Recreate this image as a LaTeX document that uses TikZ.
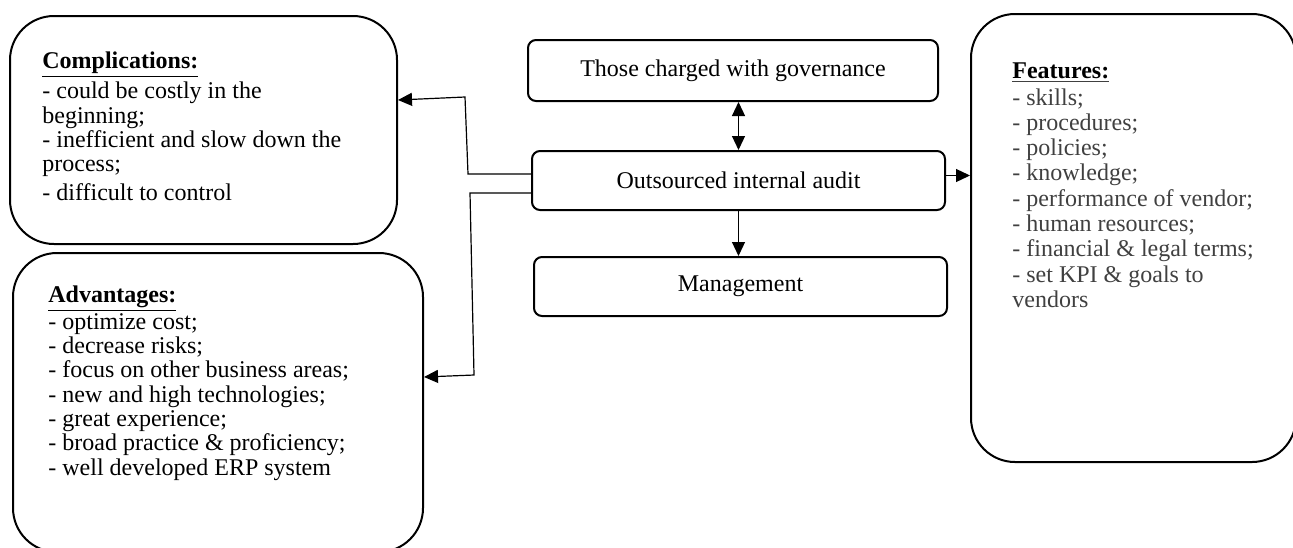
\documentclass[tikz,border=0pt]{standalone}
\usepackage{fontspec}
\setmainfont{Liberation Serif}
\usetikzlibrary{arrows.meta,calc,positioning}

\tikzset{
  box/.style={draw, line width=1pt, rounded corners=4pt, inner sep=0pt, font=\fontsize{12}{14}\selectfont},
  bigbox/.style={draw, line width=1pt, rounded corners=22pt, inner sep=0pt},
  txt/.style={anchor=north west, inner sep=0pt, align=left, font=\fontsize{12}{12.15}\selectfont},
  arr/.style={line width=0.6pt, -{Triangle[length=7pt,width=6.5pt]}},
  dblarr/.style={line width=0.6pt, {Triangle[length=7pt,width=6.5pt]}-{Triangle[length=7pt,width=6.5pt]}},
}

\begin{document}
\begin{tikzpicture}[x=0.5pt,y=-0.5pt]
\useasboundingbox (0,0) rectangle (1293,547);
\clip (0,0) rectangle (1293,547);

% centre column
\node[box, minimum width=205pt, minimum height=30.5pt] (gov) at (733,70.5) {Those charged with governance};
\node[box, minimum width=206.5pt, minimum height=29.5pt] (outs) at (738.5,180.5) {Outsourced internal audit};
\node[box, minimum width=206.5pt, minimum height=29.5pt] (mgmt) at (740.5,286.5) {Management};

% side boxes
\node[bigbox, minimum width=193.5pt, minimum height=114pt] (comp) at (203.5,130) {};
\node[bigbox, minimum width=205pt, minimum height=149.5pt] (adv) at (218,402.5) {};
\node[bigbox, minimum width=162.5pt, minimum height=224pt] (feat) at (1133.5,238) {};

\node[txt, font=\fontsize{12}{12.1}\selectfont] (comptxt) at (42,51) {\underline{\textbf{Complications:}}\\[1.5pt]- could be costly in the\\beginning;\\- inefficient and slow down the\\process;\\[2.5pt]- difficult to control};
\node[txt] (advtxt) at (48,285) {\underline{\textbf{Advantages:}}\\- optimize cost;\\- decrease risks;\\- focus on other business areas;\\- new and high technologies;\\- great experience;\\- broad practice \& proficiency;\\- well developed ERP system};
\node[txt, text=black!75, font=\fontsize{12}{12.65}\selectfont] (feattxt) at (1012,62) {\underline{\textbf{\color{black}Features:}}\\[0.8pt]- skills;\\- procedures;\\- policies;\\- knowledge;\\- performance of vendor;\\- human resources;\\- financial \& legal terms;\\- set KPI \& goals to\\vendors};

% connectors
\draw[dblarr] (outs.north) -- (outs.north |- gov.south);
\draw[arr] (outs.south) -- (outs.south |- mgmt.north);
\draw[arr] ([yshift=2.5pt]outs.east) -- ([yshift=2.5pt]outs.east -| feat.west);
\draw[arr] ([yshift=3.25pt]outs.west) -- (468,174) -- (465,97) -- ([yshift=15pt]comp.east);
\draw[arr] ([yshift=-6.25pt]outs.west) -- (470,193) -- (474,375) -- ([yshift=12.75pt]adv.east);
\end{tikzpicture}
\end{document}
